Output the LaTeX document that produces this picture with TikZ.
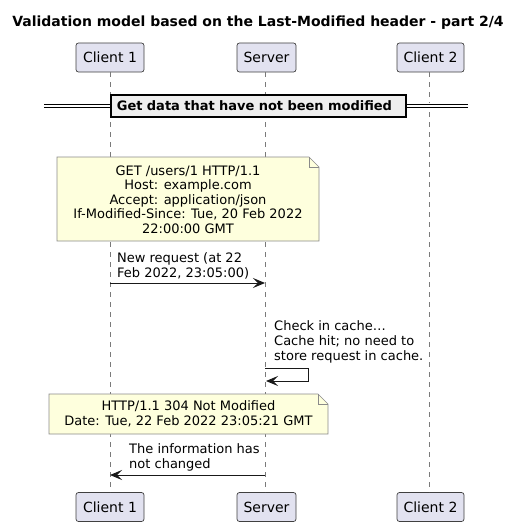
\documentclass[tikz,border=0pt]{standalone}
\usepackage{fontspec}
\setmainfont{DejaVu Sans}
\usetikzlibrary{arrows.meta}
\definecolor{partfill}{HTML}{E2E2F0}
\definecolor{notefill}{HTML}{FEFFDD}
\definecolor{notedraw}{HTML}{8A8A8A}
\definecolor{divfill}{HTML}{EEEEEE}
\definecolor{lifeline}{HTML}{7A7A7A}
\tikzset{
  participant/.style={draw=black!75, fill=partfill, rounded corners=2.5pt, line width=0.7pt,
    minimum width=68pt, minimum height=29pt, inner sep=0pt, font=\fontsize{14}{16}\selectfont},
  life/.style={draw=lifeline, line width=0.7pt, dash pattern=on 5pt off 5pt},
  msg/.style={draw=black!90, line width=1pt, -{Stealth[length=12pt,width=10pt,inset=5pt]}},
  msglabel/.style={font=\fontsize{13}{15}\selectfont, align=left, inner sep=0pt, anchor=south west},
  notetext/.style={font=\fontsize{13}{14.5}\selectfont, align=center, inner sep=0pt},
  notebox/.style={draw=notedraw, fill=notefill, line width=0.7pt},
}
\begin{document}
\begin{tikzpicture}[x=1pt,y=-1pt]
\useasboundingbox (0,0) rectangle (519,527);
% title
\node[font=\bfseries\fontsize{14}{16}\selectfont, anchor=base] (title) at (258,27) {Validation model based on the Last-Modified header - part 2/4};
% participants
\node[participant, minimum width=68pt] (c1t) at (110,57.5) {Client 1};
\node[participant, minimum width=59pt] (st) at (266.5,57.5) {Server};
\node[participant, minimum width=67pt] (c2t) at (430.5,57.5) {Client 2};
\node[participant, minimum width=68pt] (c1b) at (110,507) {Client 1};
\node[participant, minimum width=59pt] (sb) at (266.5,507) {Server};
\node[participant, minimum width=67pt] (c2b) at (430.5,507) {Client 2};
% lifelines
\coordinate (l1t) at (110,72); \coordinate (l1b) at (110,492);
\coordinate (lst) at (265,72); \coordinate (lsb) at (265,492);
\coordinate (l2t) at (429,72); \coordinate (l2b) at (429,492);
\draw[life] (l1t) -- (l1b);
\draw[life] (lst) -- (lsb);
\draw[life] (l2t) -- (l2b);
% divider
\coordinate (dl) at (44,104); \coordinate (dr) at (468,104);
\coordinate (dl2) at (44,107.5); \coordinate (dr2) at (468,107.5);
\fill[white] (44,103) rectangle (468,108.5);
\draw[line width=0.9pt] (dl) -- (dr);
\draw[line width=0.9pt] (dl2) -- (dr2);
\node[draw=black, line width=1.8pt, fill=divfill, minimum width=295pt, minimum height=22pt, inner sep=0pt,
  font=\bfseries\fontsize{13}{15}\selectfont, anchor=north west, text width=283pt, align=left] (div) at (110,94) {Get data that have not been modified};
% note 1
\draw[notebox] (57,157) -- (309,157) -- (319,167) -- (319,241) -- (57,241) -- cycle;
\draw[notedraw, line width=0.7pt] (309,157) -- (309,167) -- (319,167);
\node[notetext] (note1) at (188,199.5) {GET /users/1 HTTP/1.1\\Host: example.com\\Accept: application/json\\If-Modified-Since: Tue, 20 Feb 2022\\22:00:00 GMT};
% message 1
\coordinate (m1s) at (110,283); \coordinate (m1e) at (265,283);
\draw[msg] (m1s) -- (m1e);
\node[msglabel] (m1l) at (117,279) {New request (at 22\\Feb 2022, 23:05:00)};
% self message
\coordinate (sm1) at (265,368); \coordinate (sm2) at (308,368); \coordinate (sm3) at (308,381); \coordinate (sm4) at (266,381);
\draw[msg] (sm1) -- (sm2) -- (sm3) -- (sm4);
\node[msglabel] (sml) at (274,363) {Check in cache\ldots\\Cache hit; no need to\\store request in cache.};
% note 2
\draw[notebox] (49,394) -- (318,394) -- (328,404) -- (328,434) -- (49,434) -- cycle;
\draw[notedraw, line width=0.7pt] (318,394) -- (318,404) -- (328,404);
\node[notetext] (note2) at (188.5,414) {HTTP/1.1 304 Not Modified\\Date: Tue, 22 Feb 2022 23:05:21 GMT};
% message 2
\coordinate (m2s) at (265,475); \coordinate (m2e) at (110,475);
\draw[msg] (m2s) -- (m2e);
\node[msglabel] (m2l) at (129,471) {The information has\\not changed};
\end{tikzpicture}
\end{document}
